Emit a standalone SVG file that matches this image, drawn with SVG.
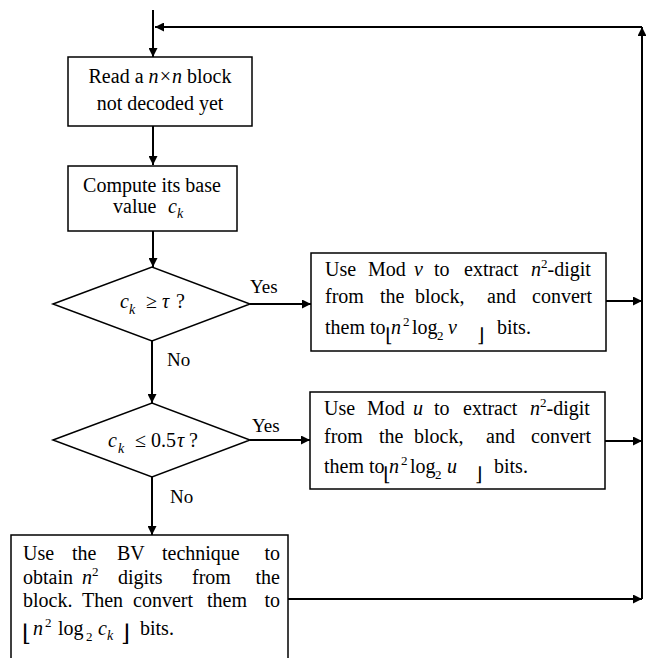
<svg xmlns="http://www.w3.org/2000/svg" width="646" height="658" viewBox="0 0 646 658">
<style>
.box{fill:#fff;stroke:#000;stroke-width:1.5}
.t{font-family:"Liberation Serif","Times New Roman",serif;font-size:20px;fill:#000}
.i{font-style:italic}
.sm{font-size:13px}
.br{font-family:"DejaVu Serif","DejaVu Sans",serif;font-size:19px}
.c{stroke:#000;stroke-width:2;fill:none}
.a{marker-end:url(#ah)}
.lbl{font-size:19px}
</style>
<defs>
<marker id="ah" viewBox="0 0 10 10" refX="10" refY="5" markerWidth="11" markerHeight="9" markerUnits="userSpaceOnUse" orient="auto"><path d="M0,0 L10,5 L0,10 z" fill="#000"/></marker>
</defs>
<g id="connectors">
<line class="c a" x1="153" y1="10" x2="153" y2="57"/>
<line class="c a" x1="153" y1="126" x2="153" y2="165"/>
<line class="c a" x1="153" y1="231" x2="153" y2="267"/>
<line class="c a" x1="152" y1="341" x2="152" y2="403"/>
<line class="c a" x1="152" y1="477" x2="152" y2="535"/>
<line class="c a" x1="250" y1="304" x2="311" y2="304"/>
<line class="c a" x1="250" y1="440" x2="310" y2="440"/>
<line class="c a" x1="606" y1="301" x2="642" y2="301"/>
<line class="c a" x1="605" y1="441" x2="642" y2="441"/>
<line class="c a" x1="288" y1="599" x2="642" y2="599"/>
<line class="c a" x1="642" y1="599" x2="642" y2="27"/>
<line class="c a" x1="642" y1="27" x2="155" y2="27"/>
<text class="t lbl" x="250" y="293">Yes</text>
<text class="t lbl" x="252" y="432">Yes</text>
<text class="t lbl" x="167" y="366">No</text>
<text class="t lbl" x="170" y="503">No</text>
</g>
<g id="read">
<rect class="box" x="68" y="57" width="184" height="69"/>
<text class="t" x="160" y="83" text-anchor="middle">Read a <tspan class="i">n×n</tspan> block</text>
<text class="t" x="160" y="110" text-anchor="middle">not decoded yet</text>
</g>
<g id="compute">
<rect class="box" x="68" y="166" width="169" height="65"/>
<text class="t" x="152" y="192" text-anchor="middle">Compute its base</text>
<text class="t" x="113" y="213">value</text>
<text class="t i" x="168" y="213">c</text>
<text class="t i" x="177" y="218" style="font-size:14px">k</text>
</g>
<g id="decision1">
<polygon class="box" points="53,304 152,267 250,304 152,341"/>
<text class="t i" x="120" y="308">c</text>
<text class="t i" x="129" y="314" style="font-size:14px">k</text>
<text class="t" x="146" y="308">≥</text>
<text class="t i" x="162" y="308">τ</text>
<text class="t" x="176" y="308">?</text>
</g>
<g id="decision2">
<polygon class="box" points="53,440 152,403 250,440 152,477"/>
<text class="t i" x="108" y="447">c</text>
<text class="t i" x="118" y="453" style="font-size:14px">k</text>
<text class="t" x="135" y="447">≤</text>
<text class="t" x="151" y="447">0.5</text>
<text class="t i" x="177" y="447">τ</text>
<text class="t" x="189" y="447">?</text>
</g>
<g id="modv">
<rect class="box" x="311" y="253" width="295" height="98"/>
<text class="t" y="276"><tspan x="325">Use</tspan><tspan x="368">Mod</tspan><tspan x="414" class="i">v</tspan><tspan x="434">to</tspan><tspan x="464">extract</tspan><tspan x="531" class="i">n</tspan><tspan class="sm" dy="-8">2</tspan><tspan dy="8">-digit</tspan></text>
<text class="t" y="303"><tspan x="325">from</tspan><tspan x="380">the</tspan><tspan x="415">block,</tspan><tspan x="487">and</tspan><tspan x="532">convert</tspan></text>
<text class="t" x="325" y="334">them to</text>
<text class="t br" x="385" y="342">⌊</text>
<text class="t i" x="391" y="334">n</text>
<text class="t sm" x="403" y="326">2</text>
<text class="t" x="412" y="334">log</text>
<text class="t sm" x="437" y="340">2</text>
<text class="t i" x="448" y="334">v</text>
<text class="t br" x="477" y="342">⌋</text>
<text class="t" x="497" y="334">bits.</text>
</g>
<g id="modu">
<rect class="box" x="310" y="392" width="295" height="97"/>
<text class="t" y="415"><tspan x="324">Use</tspan><tspan x="367">Mod</tspan><tspan x="413" class="i">u</tspan><tspan x="434">to</tspan><tspan x="463">extract</tspan><tspan x="530" class="i">n</tspan><tspan class="sm" dy="-8">2</tspan><tspan dy="8">-digit</tspan></text>
<text class="t" y="443"><tspan x="324">from</tspan><tspan x="379">the</tspan><tspan x="414">block,</tspan><tspan x="486">and</tspan><tspan x="531">convert</tspan></text>
<text class="t" x="324" y="473">them to</text>
<text class="t br" x="383" y="481">⌊</text>
<text class="t i" x="389" y="473">n</text>
<text class="t sm" x="401" y="465">2</text>
<text class="t" x="410" y="473">log</text>
<text class="t sm" x="435" y="479">2</text>
<text class="t i" x="447" y="473">u</text>
<text class="t br" x="475" y="481">⌋</text>
<text class="t" x="494" y="473">bits.</text>
</g>
<g id="bv">
<rect class="box" x="11" y="535" width="277" height="135"/>
<text class="t" y="560"><tspan x="23">Use</tspan><tspan x="72">the</tspan><tspan x="117">BV</tspan><tspan x="162">technique</tspan><tspan x="280" text-anchor="end">to</tspan></text>
<text class="t" y="584"><tspan x="23">obtain</tspan><tspan x="82" class="i">n</tspan><tspan class="sm" dy="-8">2</tspan><tspan x="118" dy="8">digits</tspan><tspan x="192">from</tspan><tspan x="280" text-anchor="end">the</tspan></text>
<text class="t" y="607"><tspan x="23">block.</tspan><tspan x="82">Then</tspan><tspan x="133">convert</tspan><tspan x="207">them</tspan><tspan x="280" text-anchor="end">to</tspan></text>
<text class="t br" x="22" y="641" style="font-size:23px">⌊</text>
<text class="t i" x="33" y="635">n</text>
<text class="t sm" x="45" y="627">2</text>
<text class="t" x="58" y="635">log</text>
<text class="t sm" x="86" y="641">2</text>
<text class="t i" x="98" y="635">c</text>
<text class="t i" x="107" y="640" style="font-size:14px">k</text>
<text class="t br" x="121" y="641" style="font-size:23px">⌋</text>
<text class="t" x="140" y="635">bits.</text>
</g>
</svg>
